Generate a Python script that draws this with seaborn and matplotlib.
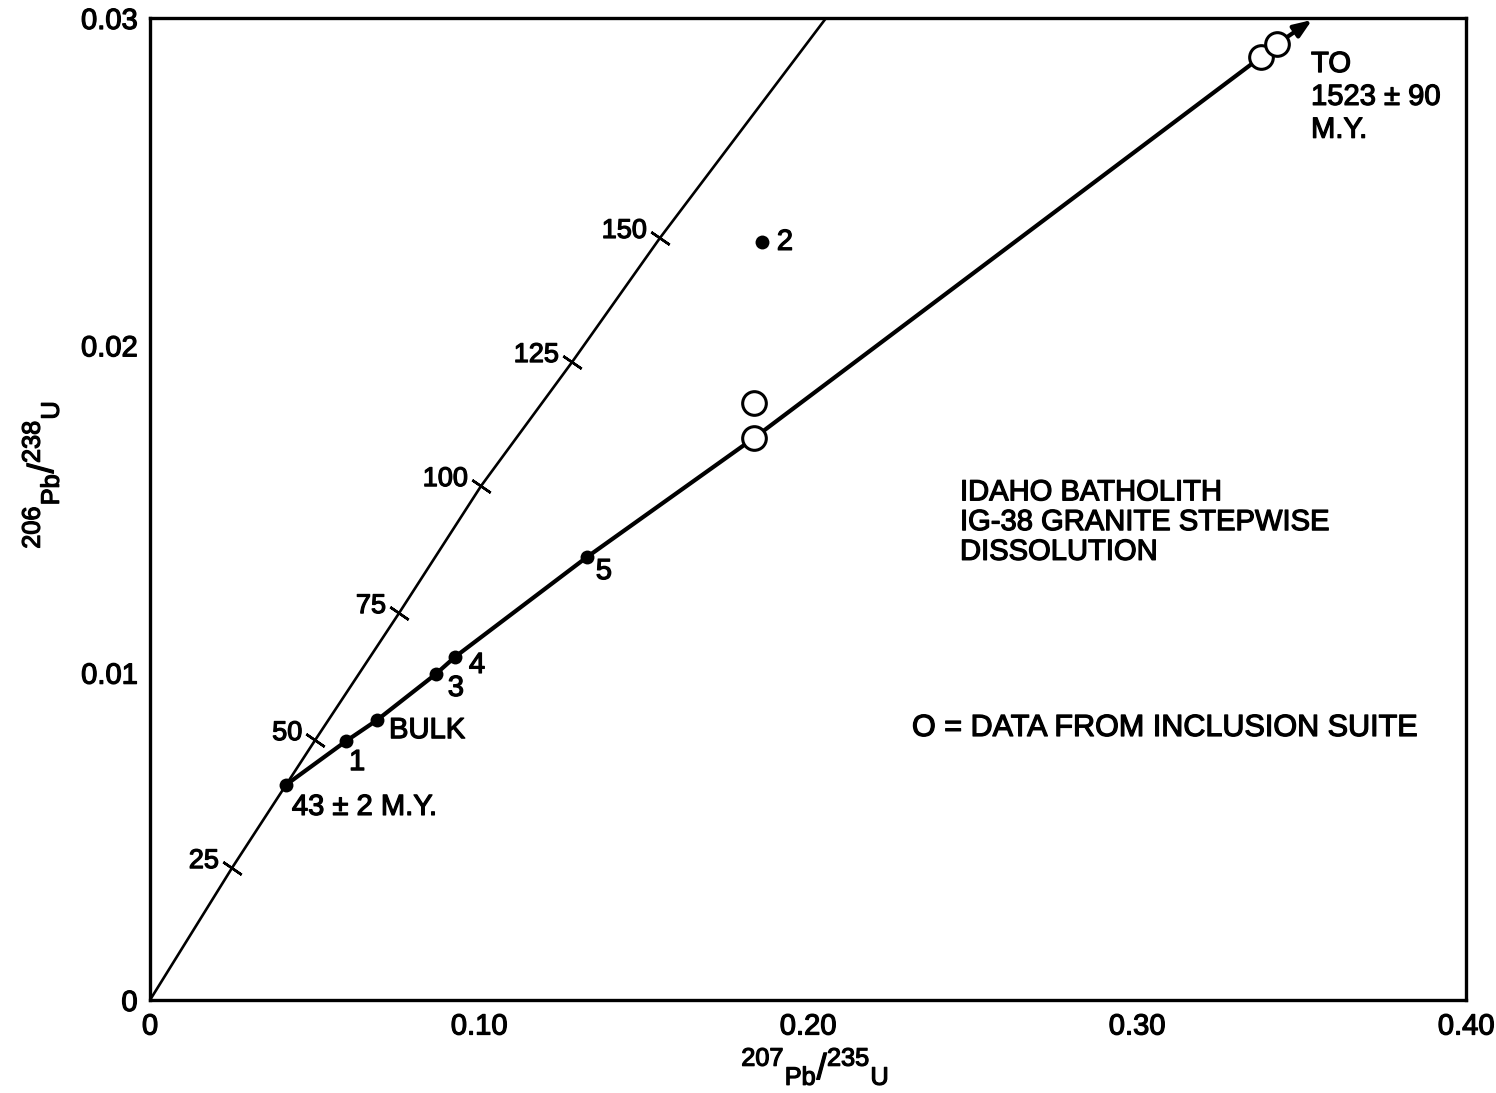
import numpy as np
import pandas as pd
import matplotlib
matplotlib.use("Agg")
import matplotlib.pyplot as plt
import matplotlib.patheffects as pe
import seaborn as sns

# ---------------- data ----------------
# Concordia curve (207Pb/235U, 206Pb/238U)
concordia_x = [0.0, 0.0249, 0.0502, 0.0757, 0.1006, 0.1283, 0.1550, 0.2055]
concordia_y = [0.0, 0.00403, 0.00794, 0.01182, 0.01570, 0.01949, 0.02328, 0.0300]

# Age tick marks on the concordia (M.Y.)
age_labels = ["25", "50", "75", "100", "125", "150"]
age_x = [0.0249, 0.0502, 0.0757, 0.1006, 0.1283, 0.1550]
age_y = [0.00403, 0.00794, 0.01182, 0.01570, 0.01949, 0.02328]

# Discordia line vertices
discordia_x = [0.0413, 0.0596, 0.0690, 0.0869, 0.0927, 0.1328, 0.1836, 0.3377, 0.3426]
discordia_y = [0.00657, 0.00791, 0.00855, 0.00996, 0.01048, 0.01353, 0.01717, 0.02881, 0.02921]
arrow_tip = (0.3532, 0.02994)

# Stepwise dissolution fractions (filled dots)
step_labels = ["43 ± 2 M.Y.", "1", "BULK", "3", "4", "5", "2"]
step_x = [0.0413, 0.0596, 0.0690, 0.0869, 0.0927, 0.1328, 0.1860]
step_y = [0.00657, 0.00791, 0.00855, 0.00996, 0.01048, 0.01353, 0.02316]

# Inclusion suite data (open circles)
incl_x = [0.1836, 0.1836, 0.3377, 0.3426]
incl_y = [0.01824, 0.01717, 0.02881, 0.02921]

x_ticks = [0.0, 0.10, 0.20, 0.30, 0.40]
x_ticklabels = ["0", "0.10", "0.20", "0.30", "0.40"]
y_ticks = [0.0, 0.01, 0.02, 0.03]
y_ticklabels = ["0", "0.01", "0.02", "0.03"]

# ---------------- style ----------------
sns.set_theme(style="white")
plt.rcParams["font.family"] = ["Liberation Sans", "DejaVu Sans"]
plt.rcParams["mathtext.fontset"] = "custom"
plt.rcParams["mathtext.rm"] = "Liberation Sans"
plt.rcParams["text.color"] = "black"
plt.rcParams["axes.labelcolor"] = "black"
FS = 21
THICK = [pe.withStroke(linewidth=0.9, foreground="black")]

fig = plt.figure(figsize=(14.96, 10.93), dpi=100)
ax = fig.add_axes([150 / 1496, 1 - 1000 / 1093, (1466 - 150) / 1496, (1000 - 18) / 1093])

conc = pd.DataFrame({"x": concordia_x, "y": concordia_y})
disc = pd.DataFrame({"x": discordia_x, "y": discordia_y})
steps = pd.DataFrame({"x": step_x, "y": step_y, "label": step_labels})
incl = pd.DataFrame({"x": incl_x, "y": incl_y})
ages = pd.DataFrame({"x": age_x, "y": age_y, "label": age_labels})

sns.lineplot(data=conc, x="x", y="y", sort=False, color="black", lw=1.9, ax=ax)
sns.lineplot(data=disc, x="x", y="y", sort=False, color="black", lw=3.0, ax=ax)

# arrow at the upper end of the discordia
ax.annotate("", xy=arrow_tip, xytext=(discordia_x[-1], discordia_y[-1]),
            arrowprops=dict(arrowstyle="-|>,head_length=0.9,head_width=0.35",
                            color="black", lw=3.0, shrinkA=0, shrinkB=0))

# age tick crosses on the concordia
ax.plot(ages["x"], ages["y"], ls="none", marker=(2, 2, 55.5), ms=16,
        mew=1.8, color="black", zorder=4)

sns.scatterplot(data=steps, x="x", y="y", color="black", s=100, edgecolor="black",
                linewidth=0, ax=ax, zorder=5)
sns.scatterplot(data=incl, x="x", y="y", facecolor="white", edgecolor="black",
                s=290, linewidth=2.2, ax=ax, zorder=6)

# age labels
for _, r in ages.iterrows():
    ax.annotate(r["label"], xy=(r["x"], r["y"]), xytext=(-13, 7),
                textcoords="offset pixels", ha="right", va="center", fontsize=19.5,
                path_effects=THICK)

# point labels
offsets = {"43 ± 2 M.Y.": (6, -22, "left"), "1": (11, -21, "center"),
           "BULK": (12, -10, "left"), "3": (20, -14, "center"),
           "4": (22, -8, "center"), "5": (17, -14, "center"), "2": (23, 0, "center")}
for _, r in steps.iterrows():
    dx, dy, ha = offsets[r["label"]]
    ax.annotate(r["label"], xy=(r["x"], r["y"]), xytext=(dx, dy),
                textcoords="offset pixels", ha=ha, va="center", fontsize=FS,
                path_effects=THICK)

ax.text(0.3529, 0.02759, "TO\n1523 ± 90\nM.Y.", ha="left", va="center",
        fontsize=FS, linespacing=1.22, path_effects=THICK)
ax.text(0.2462, 0.01460, "IDAHO BATHOLITH\nIG-38 GRANITE STEPWISE\nDISSOLUTION",
        ha="left", va="center", fontsize=FS, linespacing=1.08, path_effects=THICK)
ax.text(0.2316, 0.00831, "O = DATA FROM INCLUSION SUITE", ha="left", va="center",
        fontsize=FS + 1, path_effects=THICK)

ax.set_xlim(0, 0.40)
ax.set_ylim(0, 0.03)
ax.set_xticks(x_ticks)
ax.set_xticklabels(x_ticklabels)
ax.set_yticks(y_ticks)
ax.set_yticklabels(y_ticklabels)
ax.tick_params(direction="in", length=13, width=2, labelsize=FS, pad=9,
               colors="black", labelcolor="black")
for lab in ax.get_xticklabels() + ax.get_yticklabels():
    lab.set_path_effects(THICK)
ax.set_xlabel("")
ax.set_ylabel("")

fig.text(815 / 1496, 1 - 1066 / 1093, r"$\mathregular{^{207}{}_{Pb}/^{235}{}_{U}}$",
         fontsize=26, ha="center", va="center", path_effects=THICK)
fig.text(40 / 1496, 1 - 475 / 1093, r"$\mathregular{^{206}{}_{Pb}/^{238}{}_{U}}$",
         fontsize=26, ha="center", va="center", rotation=90, path_effects=THICK)

for sp in ax.spines.values():
    sp.set_color("black")
    sp.set_linewidth(2.4)

fig.savefig("out.png", dpi=100, facecolor="white")
